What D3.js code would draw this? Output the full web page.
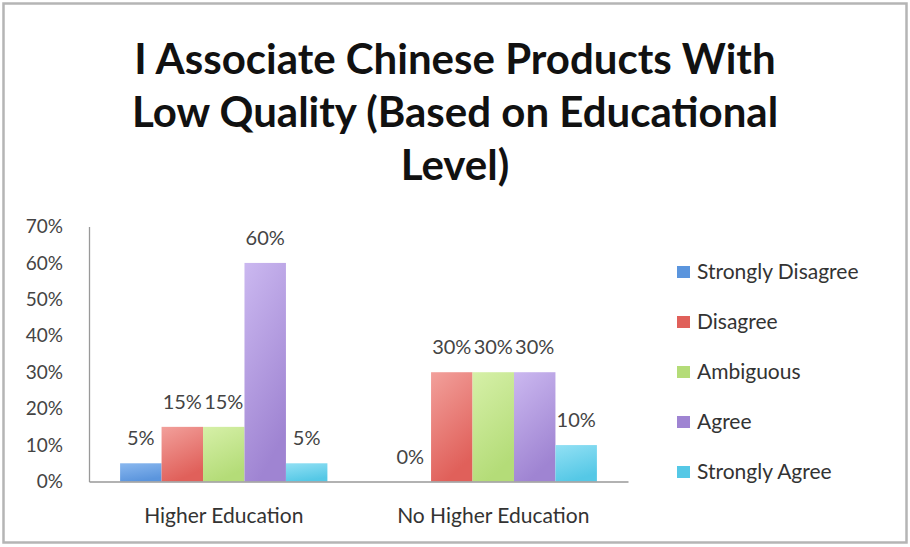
<!DOCTYPE html>
<html>
<head>
<meta charset="utf-8">
<script src="https://cdn.jsdelivr.net/npm/d3@7"></script>
<style>
  html, body { margin: 0; padding: 0; background: #fff; }
  svg { display: block; font-family: Lato, "Open Sans", sans-serif; }
</style>
</head>
<body>
<svg id="chart" width="910" height="547"></svg>
<script>
// Survey responses by education level (share of respondents)
const groups = ["Higher Education", "No Higher Education"];
const seriesNames = ["Strongly Disagree", "Disagree", "Ambiguous", "Agree", "Strongly Agree"];
const higherEducation = [0.05, 0.15, 0.15, 0.60, 0.05];
const noHigherEducation = [0.00, 0.30, 0.30, 0.30, 0.10];
const yTicks = [0, 0.1, 0.2, 0.3, 0.4, 0.5, 0.6, 0.7];
const titleLines = ["I Associate Chinese Products With", "Low Quality (Based on Educational", "Level)"];
const seriesColors = ["#5b95dd", "#e0605a", "#b4dc78", "#9f84d2", "#55c8e6"];
const seriesLight = ["#8ab8ef", "#f2a09b", "#d6f0a8", "#cbb8f0", "#92e0f4"];

const values = [higherEducation, noHigherEducation];

const svg = d3.select("#chart");

// outer frame
svg.append("rect")
  .attr("x", 3.5).attr("y", 3.5).attr("width", 903).attr("height", 539)
  .attr("fill", "#fff").attr("stroke", "#b5b5b5").attr("stroke-width", 2.5);

// title
svg.append("g").selectAll("text").data(titleLines).join("text")
  .attr("x", 455)
  .attr("y", (d, i) => 74 + i * 53)
  .attr("text-anchor", "middle")
  .attr("font-size", 42)
  .attr("font-weight", "bold")
  .attr("fill", "#111")
  .text(d => d);

const plot = { left: 89, right: 628, top: 226.5, bottom: 481.5 };

const y = d3.scaleLinear().domain([0, 0.7]).range([plot.bottom, plot.top]);
const x0 = d3.scaleBand().domain(groups).range([plot.left, plot.right]).padding(0);
const x1 = d3.scaleBand().domain(seriesNames)
  .range([0, x0.bandwidth()]).paddingOuter(0.75).paddingInner(0);

// gradients for bar fills
const defs = svg.append("defs");
seriesNames.forEach((s, i) => {
  const g = defs.append("linearGradient")
    .attr("id", "grad" + i).attr("x1", 0).attr("y1", 0).attr("x2", 0.35).attr("y2", 1);
  g.append("stop").attr("offset", "0%").attr("stop-color", seriesLight[i]);
  g.append("stop").attr("offset", "100%").attr("stop-color", seriesColors[i]);
});

// bars
const groupG = svg.append("g").selectAll("g").data(groups).join("g")
  .attr("transform", d => `translate(${x0(d)},0)`);

groupG.selectAll("rect")
  .data((g, gi) => seriesNames.map((s, si) => ({ s, si, v: values[gi][si] })))
  .join("rect")
  .attr("x", d => x1(d.s))
  .attr("width", x1.bandwidth())
  .attr("y", d => y(d.v))
  .attr("height", d => plot.bottom - y(d.v))
  .attr("fill", d => `url(#grad${d.si})`);

// value labels
groupG.selectAll("text")
  .data((g, gi) => seriesNames.map((s, si) => ({ s, si, v: values[gi][si] })))
  .join("text")
  .attr("x", d => x1(d.s) + x1.bandwidth() / 2)
  .attr("y", d => y(d.v) - 18)
  .attr("text-anchor", "middle")
  .attr("font-size", 20)
  .attr("fill", "#444")
  .text(d => d3.format(".0%")(d.v));

// y axis
const yAxis = d3.axisLeft(y).tickValues(yTicks).tickFormat(d3.format(".0%")).tickSize(0).tickPadding(26);
const yg = svg.append("g").attr("transform", `translate(${plot.left},0)`).call(yAxis);
yg.select(".domain").attr("stroke", "#999").attr("stroke-width", 1.3);
yg.selectAll("text").attr("font-size", 19).attr("fill", "#444").attr("font-family", "Lato, sans-serif");

// x axis
const xAxis = d3.axisBottom(x0).tickSize(0).tickPadding(27);
const xg = svg.append("g").attr("transform", `translate(0,${plot.bottom})`).call(xAxis);
xg.select(".domain").attr("stroke", "#999").attr("stroke-width", 1.3);
xg.selectAll("text").attr("font-size", 21).attr("fill", "#333").attr("font-family", "Lato, sans-serif");

// legend
const legend = svg.append("g").selectAll("g").data(seriesNames).join("g")
  .attr("transform", (d, i) => `translate(677,${272 + i * 50})`);
legend.append("rect")
  .attr("x", 0).attr("y", -6).attr("width", 13).attr("height", 12)
  .attr("fill", (d, i) => seriesColors[i]);
legend.append("text")
  .attr("x", 20).attr("y", 0).attr("dy", "0.35em")
  .attr("font-size", 21).attr("fill", "#333")
  .text(d => d);
</script>
</body>
</html>
